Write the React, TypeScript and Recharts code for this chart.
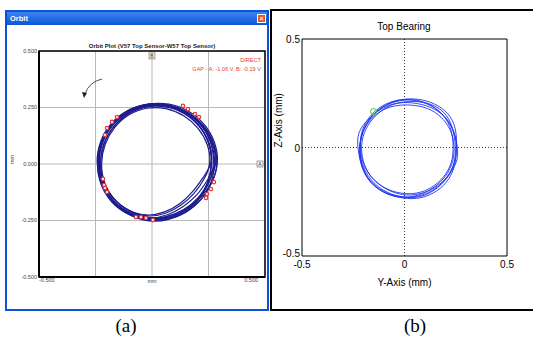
import {
  ComposedChart,
  Line,
  Scatter,
  XAxis,
  YAxis,
  CartesianGrid,
  ReferenceArea,
  ReferenceLine,
  ReferenceDot,
} from "recharts"

type Pt = [number, number]

// ---- (a) orbit loops (mm)
const loopA1: Pt[] = [
  [0.282, 0.008], [0.266, 0.098], [0.221, 0.176], [0.151, 0.235], [0.066, 0.266], [-0.026, 0.266],
  [-0.111, 0.235], [-0.181, 0.176], [-0.226, 0.098], [-0.242, 0.008], [-0.226, -0.082], [-0.181, -0.16],
  [-0.111, -0.219], [-0.026, -0.25], [0.066, -0.25], [0.151, -0.219], [0.221, -0.16], [0.266, -0.082],
]
const loopA2: Pt[] = [
  [0.29, 0.0], [0.277, 0.092], [0.23, 0.172], [0.159, 0.232], [0.072, 0.264], [-0.022, 0.264],
  [-0.109, 0.232], [-0.18, 0.172], [-0.227, 0.092], [-0.243, 0.0], [-0.225, -0.09], [-0.18, -0.168],
  [-0.105, -0.225], [-0.018, -0.25], [0.064, -0.236], [0.142, -0.205], [0.208, -0.152], [0.252, -0.08],
]
const loopA3: Pt[] = [
  [0.27, 0.01], [0.255, 0.097], [0.21, 0.172], [0.143, 0.231], [0.059, 0.262], [-0.03, 0.261],
  [-0.113, 0.23], [-0.18, 0.174], [-0.224, 0.097], [-0.238, 0.01], [-0.222, -0.078], [-0.178, -0.152],
  [-0.11, -0.208], [-0.028, -0.24], [0.06, -0.242], [0.142, -0.215], [0.208, -0.158], [0.252, -0.08],
]
const loopA4: Pt[] = [
  [0.288, 0.004], [0.272, 0.09], [0.228, 0.17], [0.16, 0.228], [0.074, 0.26], [-0.016, 0.262],
  [-0.1, 0.23], [-0.17, 0.172], [-0.216, 0.092], [-0.234, 0.002], [-0.22, -0.088], [-0.176, -0.165],
  [-0.1, -0.22], [-0.01, -0.245], [0.07, -0.228], [0.14, -0.19], [0.2, -0.14], [0.246, -0.072],
]
const loopA5: Pt[] = [
  [0.268, 0.016], [0.252, 0.102], [0.208, 0.18], [0.14, 0.238], [0.054, 0.268], [-0.036, 0.266],
  [-0.119, 0.236], [-0.188, 0.178], [-0.233, 0.098], [-0.248, 0.01], [-0.232, -0.078], [-0.188, -0.155],
  [-0.118, -0.212], [-0.034, -0.242], [0.056, -0.246], [0.14, -0.222], [0.206, -0.166], [0.25, -0.086],
]
const loopA6: Pt[] = [
  [0.296, 0.006], [0.282, 0.096], [0.236, 0.178], [0.164, 0.238], [0.076, 0.27], [-0.018, 0.27],
  [-0.106, 0.238], [-0.178, 0.178], [-0.224, 0.096], [-0.24, 0.004], [-0.224, -0.088], [-0.178, -0.17],
  [-0.102, -0.23], [-0.012, -0.258], [0.074, -0.25], [0.152, -0.214], [0.22, -0.16], [0.268, -0.086],
]
const loopA7: Pt[] = [
  [0.262, 0.0], [0.25, 0.086], [0.208, 0.16], [0.145, 0.216], [0.062, 0.25], [-0.024, 0.252],
  [-0.104, 0.222], [-0.168, 0.165], [-0.212, 0.088], [-0.228, 0.0], [-0.214, -0.086], [-0.17, -0.16],
  [-0.1, -0.212], [-0.02, -0.236], [0.062, -0.222], [0.13, -0.184], [0.188, -0.132], [0.232, -0.068],
]
const loopA8: Pt[] = [
  [0.272, 0.006], [0.258, 0.092], [0.214, 0.168], [0.148, 0.226], [0.065, 0.256], [-0.022, 0.258],
  [-0.106, 0.228], [-0.172, 0.17], [-0.218, 0.092], [-0.232, 0.006], [-0.218, -0.08], [-0.174, -0.156],
  [-0.104, -0.21], [-0.022, -0.232], [0.058, -0.215], [0.124, -0.178], [0.18, -0.126], [0.226, -0.06],
]
const loopA9: Pt[] = [
  [0.292, -0.004], [0.28, 0.09], [0.234, 0.17], [0.162, 0.232], [0.074, 0.266], [-0.02, 0.268],
  [-0.11, 0.236], [-0.182, 0.174], [-0.23, 0.09], [-0.246, -0.004], [-0.23, -0.094], [-0.182, -0.172],
  [-0.108, -0.226], [-0.02, -0.252], [0.068, -0.244], [0.15, -0.208], [0.218, -0.15], [0.27, -0.08],
]
const loopA10: Pt[] = [
  [0.278, 0.012], [0.262, 0.1], [0.218, 0.178], [0.15, 0.236], [0.062, 0.268], [-0.028, 0.268],
  [-0.114, 0.238], [-0.184, 0.18], [-0.23, 0.1], [-0.245, 0.012], [-0.228, -0.076], [-0.184, -0.158],
  [-0.114, -0.218], [-0.03, -0.246], [0.054, -0.24], [0.136, -0.212], [0.202, -0.16], [0.256, -0.092],
]
const loopsA = [loopA1, loopA2, loopA3, loopA4, loopA5, loopA6, loopA7, loopA8, loopA9, loopA10]

// once-per-rev markers (red/white dots)
const markersA: Pt[] = [
  [0.137, 0.257], [0.159, 0.243], [0.19, 0.221], [0.208, 0.208],
  [-0.155, 0.208], [-0.177, 0.186], [-0.199, 0.159], [-0.208, 0.128],
  [-0.217, -0.066], [-0.212, -0.093], [-0.208, -0.106], [-0.199, -0.124],
  [-0.071, -0.235], [-0.049, -0.235], [-0.027, -0.239], [0.004, -0.248],
  [0.274, -0.08], [0.261, -0.111], [0.243, -0.133], [0.239, -0.15],
]

// ---- (b) orbit loops (mm)
const loopB1: Pt[] = [
  [0.258, -0.005], [0.244, 0.073], [0.202, 0.142], [0.138, 0.192], [0.06, 0.22], [-0.024, 0.22],
  [-0.102, 0.192], [-0.166, 0.142], [-0.208, 0.073], [-0.222, -0.005], [-0.208, -0.083], [-0.166, -0.152],
  [-0.102, -0.202], [-0.024, -0.23], [0.06, -0.23], [0.138, -0.202], [0.202, -0.152], [0.244, -0.083],
]
const loopB2: Pt[] = [
  [0.25, 0.01], [0.238, 0.085], [0.21, 0.15], [0.15, 0.196], [0.07, 0.214], [-0.02, 0.212],
  [-0.095, 0.185], [-0.158, 0.135], [-0.2, 0.07], [-0.214, -0.002], [-0.2, -0.08], [-0.16, -0.145],
  [-0.09, -0.195], [-0.01, -0.222], [0.07, -0.218], [0.148, -0.19], [0.21, -0.14], [0.248, -0.07],
]
const loopB3: Pt[] = [
  [0.266, -0.045], [0.25, 0.06], [0.214, 0.13], [0.15, 0.18], [0.064, 0.206], [-0.03, 0.21],
  [-0.11, 0.184], [-0.176, 0.134], [-0.232, 0.07], [-0.228, -0.01], [-0.21, -0.09], [-0.17, -0.156],
  [-0.106, -0.206], [-0.03, -0.226], [0.05, -0.236], [0.128, -0.212], [0.196, -0.16], [0.24, -0.094],
]
const loopB4: Pt[] = [
  [0.24, 0.0], [0.232, 0.08], [0.196, 0.148], [0.132, 0.198], [0.05, 0.224], [-0.036, 0.222],
  [-0.112, 0.194], [-0.172, 0.145], [-0.212, 0.078], [-0.218, 0.0], [-0.205, -0.075], [-0.162, -0.142],
  [-0.098, -0.19], [-0.018, -0.214], [0.062, -0.214], [0.132, -0.188], [0.192, -0.14], [0.232, -0.074],
]
const loopB5: Pt[] = [
  [0.256, 0.02], [0.25, 0.096], [0.216, 0.16], [0.148, 0.204], [0.068, 0.226], [-0.018, 0.224],
  [-0.096, 0.198], [-0.16, 0.15], [-0.204, 0.082], [-0.22, 0.004], [-0.214, -0.074], [-0.18, -0.15],
  [-0.116, -0.205], [-0.03, -0.232], [0.06, -0.24], [0.142, -0.214], [0.208, -0.164], [0.25, -0.088],
]
const loopB6: Pt[] = [
  [0.246, -0.01], [0.234, 0.066], [0.196, 0.128], [0.134, 0.176], [0.056, 0.196], [-0.028, 0.198],
  [-0.106, 0.178], [-0.17, 0.13], [-0.212, 0.064], [-0.224, -0.014], [-0.212, -0.092], [-0.172, -0.16],
  [-0.104, -0.21], [-0.024, -0.234], [0.056, -0.226], [0.13, -0.196], [0.192, -0.148], [0.234, -0.082],
]
const loopsB = [loopB1, loopB2, loopB3, loopB4, loopB5, loopB6]
const startB: Pt = [-0.151, 0.166]

const ticksA = [-0.5, -0.25, 0, 0.25, 0.5]
const ticksB = [-0.5, 0, 0.5]

const pts = (list: Pt[]) => list.map(([x, y]) => ({ x, y }))

const uiFont = "'Liberation Sans', Arial, sans-serif"
const matFont = "'Liberation Sans Narrow', 'Liberation Sans', Arial, sans-serif"

function RedMarker(props: any) {
  const { cx, cy } = props
  return <circle cx={cx} cy={cy} r={1.7} fill="#fff" stroke="#e83a3a" strokeWidth={1.3} />
}

function BoxTag(letter: string) {
  return (props: any) => {
    const { cx, cy } = props
    return (
      <g>
        <rect x={cx - 3} y={cy - 3} width={6} height={6} fill="#f2f2f2" stroke="#666" strokeWidth={0.6} />
        <text x={cx} y={cy + 2} fontSize={5} textAnchor="middle" fill="#333" fontFamily={uiFont}>
          {letter}
        </text>
      </g>
    )
  }
}

function XTickA(props: any) {
  const { x, y, payload } = props
  if (payload.value !== -0.5 && payload.value !== 0.5) return <g />
  return (
    <text
      x={x}
      y={y + 5}
      fontSize={5.5}
      fill="#444"
      fontFamily={uiFont}
      textAnchor={payload.value < 0 ? "start" : "end"}
    >
      {payload.value.toFixed(3)}
    </text>
  )
}

function YTickB(props: any) {
  const { x, y, payload } = props
  const v = payload.value
  return (
    <text x={x} y={v === -0.5 ? y + 1 : y + 4} fontSize={10} fill="#000" fontFamily={matFont} textAnchor="end">
      {v === 0 ? "0" : String(v)}
    </text>
  )
}

function OrbitA() {
  return (
    <ComposedChart
      width={268}
      height={300}
      margin={{ top: 51, right: 3, left: 9, bottom: 3 }}
      style={{ position: "absolute", left: 0, top: 0 }}
    >
      <CartesianGrid stroke="#b9b9b9" strokeWidth={1} />
      <XAxis
        type="number"
        dataKey="x"
        domain={[-0.5, 0.5]}
        ticks={ticksA}
        height={20}
        tickLine={false}
        axisLine={{ stroke: "#000", strokeWidth: 2 }}
        tickSize={0}
        tickMargin={0}
        tick={<XTickA />}
        label={{ value: "mm", position: "insideTop", offset: 2, fontSize: 5.5, fill: "#444", fontFamily: uiFont }}
      />
      <YAxis
        type="number"
        dataKey="y"
        domain={[-0.5, 0.5]}
        ticks={ticksA}
        width={30}
        tickLine={false}
        axisLine={{ stroke: "#000", strokeWidth: 2 }}
        tickSize={0}
        tickMargin={2}
        tickFormatter={(v: number) => v.toFixed(3)}
        tick={{ fontSize: 5.5, fill: "#444", fontFamily: uiFont }}
        label={{ value: "mm", angle: -90, position: "insideLeft", offset: 3, fontSize: 5.5, fill: "#444", fontFamily: uiFont }}
      />
      <ReferenceArea x1={-0.5} x2={0.5} y1={-0.5} y2={0.5} fill="none" stroke="#000" strokeWidth={1.5} />
      {loopsA.map((loop, i) => (
        <Line
          key={i}
          data={pts(loop)}
          dataKey="y"
          type="basisClosed"
          stroke="#1c1c8e"
          strokeWidth={1.2}
          dot={false}
          isAnimationActive={false}
        />
      ))}
      <Scatter data={pts(markersA)} dataKey="y" shape={RedMarker} isAnimationActive={false} />
      <ReferenceDot x={0} y={0.478} shape={BoxTag("B")} />
      <ReferenceDot x={0.478} y={0} shape={BoxTag("A")} />
    </ComposedChart>
  )
}

function OrbitB() {
  const tickStyle = { fontSize: 10, fill: "#000", fontFamily: matFont }
  return (
    <ComposedChart
      width={262}
      height={300}
      margin={{ top: 39, right: 26, left: 6, bottom: 14 }}
      style={{ position: "absolute", left: 271, top: 0 }}
    >
      <XAxis
        type="number"
        dataKey="x"
        domain={[-0.5, 0.5]}
        ticks={ticksB}
        height={30}
        tickLine={false}
        axisLine={false}
        tickSize={0}
        tickMargin={5}
        tick={tickStyle}
        tickFormatter={(v: number) => (v === 0 ? "0" : String(v))}
        label={{ value: "Y-Axis (mm)", position: "insideBottom", offset: 0, ...tickStyle }}
      />
      <YAxis
        type="number"
        dataKey="y"
        domain={[-0.5, 0.5]}
        ticks={ticksB}
        width={25}
        tickLine={false}
        axisLine={false}
        tickSize={0}
        tickMargin={2}
        tick={<YTickB />}
        label={{ value: "Z-Axis (mm)", angle: -90, position: "insideLeft", offset: 1, ...tickStyle }}
      />
      <ReferenceLine x={0} stroke="#000" strokeWidth={0.8} strokeDasharray="1 2" />
      <ReferenceLine y={0} stroke="#000" strokeWidth={0.8} strokeDasharray="1 2" />
      <ReferenceArea x1={-0.5} x2={0.5} y1={-0.5} y2={0.5} fill="none" stroke="#000" strokeWidth={1} />
      {loopsB.map((loop, i) => (
        <Line
          key={i}
          data={pts(loop)}
          dataKey="y"
          type="basisClosed"
          stroke="#1f33f0"
          strokeWidth={0.9}
          dot={false}
          isAnimationActive={false}
        />
      ))}
      <ReferenceDot x={startB[0]} y={startB[1]} r={3} fill="none" stroke="#33cc33" strokeWidth={1} />
    </ComposedChart>
  )
}

export default function App() {
  return (
    <div style={{ position: "relative", width: 533, height: 338, background: "#fff", overflow: "hidden" }}>
      <style>{`body{margin:0}`}</style>

      {/* (a) window frame */}
      <div
        style={{
          position: "absolute",
          left: 5,
          top: 10,
          width: 264,
          height: 301,
          boxSizing: "border-box",
          border: "2px solid #0b52d8",
          background: "#fff",
        }}
      >
        <div
          style={{
            position: "absolute",
            left: 0,
            top: 0,
            right: 0,
            height: 13,
            background: "linear-gradient(#3b84ee, #0c56d8)",
            color: "#fff",
            fontFamily: uiFont,
            fontWeight: "bold",
            fontSize: 7.5,
            lineHeight: "13px",
            paddingLeft: 3,
          }}
        >
          Orbit
        </div>
        <div
          style={{
            position: "absolute",
            right: 1,
            top: 2,
            width: 9,
            height: 9,
            boxSizing: "border-box",
            background: "#e0582a",
            border: "1px solid #fff",
            color: "#fff",
            fontSize: 7,
            lineHeight: "7px",
            textAlign: "center",
            fontFamily: uiFont,
            fontWeight: "bold",
          }}
        >
          ×
        </div>
      </div>
      <div
        style={{
          position: "absolute",
          left: 40,
          width: 224,
          top: 43,
          textAlign: "center",
          fontFamily: uiFont,
          fontWeight: "bold",
          fontSize: 6,
          color: "#222",
          whiteSpace: "nowrap",
        }}
      >
        Orbit Plot (V57 Top Sensor-W57 Top Sensor)
      </div>
      <OrbitA />
      <div
        style={{
          position: "absolute",
          right: 533 - 261,
          top: 56,
          textAlign: "right",
          fontFamily: uiFont,
          fontSize: 5.6,
          lineHeight: "9px",
          color: "#ee3b3b",
          whiteSpace: "nowrap",
        }}
      >
        DIRECT
        <br />
        GAP - A: -1.06 V, B: -0.19 V
      </div>
      <svg style={{ position: "absolute", left: 0, top: 0 }} width={140} height={120}>
        <path d="M102,79 Q89,82 85,94" fill="none" stroke="#222" strokeWidth={0.8} />
        <path d="M82,92 L84,98 L87,93 Z" fill="#222" />
      </svg>

      {/* (b) frame */}
      <div
        style={{
          position: "absolute",
          left: 270,
          top: 9,
          width: 270,
          height: 302,
          boxSizing: "border-box",
          border: "2.5px solid #000",
        }}
      />
      <div
        style={{
          position: "absolute",
          left: 304,
          width: 200,
          top: 21,
          textAlign: "center",
          fontFamily: matFont,
          fontSize: 10,
          color: "#000",
        }}
      >
        Top Bearing
      </div>
      <OrbitB />

      <div
        style={{
          position: "absolute",
          left: 96,
          width: 60,
          top: 315,
          textAlign: "center",
          fontFamily: "'Liberation Serif', 'Times New Roman', serif",
          fontSize: 19,
        }}
      >
        (a)
      </div>
      <div
        style={{
          position: "absolute",
          left: 385,
          width: 60,
          top: 315,
          textAlign: "center",
          fontFamily: "'Liberation Serif', 'Times New Roman', serif",
          fontSize: 19,
        }}
      >
        (b)
      </div>
    </div>
  )
}
